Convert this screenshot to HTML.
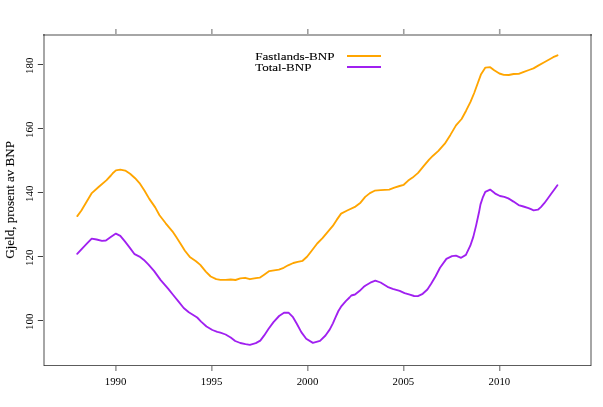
<!DOCTYPE html>
<html><head><meta charset="utf-8"><title>Gjeld</title>
<style>html,body{margin:0;padding:0;background:#fff;}body{width:603px;height:407px;overflow:hidden;font-family:"Liberation Serif",serif;}svg{display:block;}</style>
</head><body>
<svg width="603" height="407" viewBox="0 0 603 407">
<rect width="603" height="407" fill="#fff"/>
<g fill="none" stroke-linecap="butt">
<path d="M44,34 V366" stroke="#000" stroke-opacity="0.35" stroke-width="2"/>
<path d="M591,34 V366" stroke="#000" stroke-opacity="0.35" stroke-width="2"/>
<path d="M43,35 H592" stroke="#000" stroke-opacity="0.35" stroke-width="2"/>
<path d="M44,365.5 H591" stroke="#333" stroke-opacity="0.8" stroke-width="1.1"/>
<path d="M115.90,366 V371" stroke="#000" stroke-opacity="0.45" stroke-width="1.4"/>
<path d="M115.90,29 V34" stroke="#000" stroke-opacity="0.38" stroke-width="1.6"/>
<path d="M211.85,366 V371" stroke="#000" stroke-opacity="0.45" stroke-width="1.4"/>
<path d="M211.85,29 V34" stroke="#000" stroke-opacity="0.38" stroke-width="1.6"/>
<path d="M307.80,366 V371" stroke="#000" stroke-opacity="0.45" stroke-width="1.4"/>
<path d="M307.80,29 V34" stroke="#000" stroke-opacity="0.38" stroke-width="1.6"/>
<path d="M403.75,366 V371" stroke="#000" stroke-opacity="0.45" stroke-width="1.4"/>
<path d="M403.75,29 V34" stroke="#000" stroke-opacity="0.38" stroke-width="1.6"/>
<path d="M499.70,366 V371" stroke="#000" stroke-opacity="0.45" stroke-width="1.4"/>
<path d="M499.70,29 V34" stroke="#000" stroke-opacity="0.38" stroke-width="1.6"/>
<path d="M37.8,320.50 H43" stroke="#000" stroke-opacity="0.75" stroke-width="1"/>
<path d="M37.8,256.50 H43" stroke="#000" stroke-opacity="0.75" stroke-width="1"/>
<path d="M37.8,192.50 H43" stroke="#000" stroke-opacity="0.75" stroke-width="1"/>
<path d="M37.8,128.50 H43" stroke="#000" stroke-opacity="0.75" stroke-width="1"/>
<path d="M37.8,64.50 H43" stroke="#000" stroke-opacity="0.75" stroke-width="1"/>
</g>
<path d="M347,56 H381" stroke="#FFA500" stroke-width="2.2" fill="none"/>
<path d="M347,67 H381" stroke="#A020F0" stroke-width="2.2" fill="none"/>
<polyline points="77.3,216.1 81.4,210.5 86.3,202.2 91.8,193.1 98.6,187.0 106.6,180.1 110.9,175.5 113.3,172.7 115.9,170.4 120.3,169.7 125.2,170.6 130.1,173.8 135.1,178.2 139.5,183.1 144.4,190.5 149.3,198.9 155.2,207.4 159.5,215.3 165.7,223.3 172.4,231.3 176.1,236.8 180.4,243.4 184.9,250.7 189.8,256.9 196.0,261.2 200.3,264.9 205.8,271.6 210.7,276.5 216.2,279.2 220.4,279.9 225.6,279.9 230.7,279.5 235.5,280.0 240.3,278.4 245.1,277.8 249.9,279.2 255.8,278.2 259.7,277.7 264.5,274.4 269.3,271.1 274.1,270.4 278.9,269.6 283.7,267.8 288.1,265.3 293.3,263.0 297.7,261.9 302.6,260.8 307.0,256.8 311.5,251.0 317.2,243.5 322.5,238.2 326.9,232.9 332.8,225.9 336.7,219.9 341.1,213.6 347.2,210.5 355.5,206.6 360.5,202.7 365.2,196.9 369.9,193.1 374.6,190.7 380.6,190.1 389.2,189.6 394.4,187.7 399.6,186.0 403.7,184.8 408.2,180.6 412.6,177.6 418.1,172.9 423.6,166.2 429.1,159.6 433.0,155.7 438.4,150.9 444.8,143.7 450.4,134.9 456.0,125.4 461.6,119.0 466.1,110.7 470.5,101.9 474.2,93.0 478.1,82.2 480.9,74.6 485.4,67.6 490.2,67.2 494.2,70.2 499.4,73.5 503.8,74.8 508.8,75.0 513.6,74.0 518.7,73.9 523.9,71.8 529.0,70.0 533.5,68.4 538.6,65.4 543.8,62.5 548.3,60.0 553.2,57.2 557.5,55.3" fill="none" stroke="#FFA500" stroke-width="1.85" stroke-linejoin="round" stroke-linecap="round"/>
<polyline points="77.2,253.8 82.8,247.8 87.3,243.2 91.7,238.6 96.6,239.5 102.0,240.9 105.9,240.5 110.4,237.3 115.9,233.6 120.3,235.8 124.7,241.2 129.7,247.6 134.6,254.2 139.5,256.6 143.9,259.9 148.3,264.3 154.0,270.9 160.7,280.1 168.1,288.7 173.6,295.5 178.6,301.6 183.7,308.0 188.8,312.3 192.8,314.7 197.2,317.5 201.1,321.6 206.5,326.5 212.4,330.0 217.3,331.9 220.4,332.7 225.6,334.5 230.7,337.5 235.2,341.0 240.3,343.0 245.5,344.1 249.9,344.8 255.8,343.1 260.3,340.6 264.2,335.4 268.6,328.8 273.5,322.1 279.1,316.0 284.0,312.7 288.5,312.7 293.0,317.2 296.8,323.8 301.3,332.1 306.2,338.7 312.9,342.9 320.0,340.9 325.5,335.5 329.8,329.4 332.9,323.3 335.4,317.7 338.4,311.0 341.5,306.1 345.8,301.1 349.5,297.5 351.3,295.5 355.0,294.5 359.4,291.1 363.5,287.1 365.6,285.5 370.3,282.7 375.3,280.6 380.6,282.5 387.5,286.8 392.7,288.8 399.7,290.8 404.6,293.1 409.8,294.7 414.1,296.0 417.9,296.2 422.7,293.8 427.4,289.5 431.3,283.5 435.6,276.2 440.0,267.7 446.4,258.9 452.0,256.1 456.0,255.7 461.1,257.8 465.9,254.9 470.3,245.7 473.3,236.9 476.2,225.1 479.0,212.3 480.5,204.4 482.7,197.7 485.3,191.8 490.1,189.6 495.2,193.6 500.0,196.0 504.3,196.8 508.3,198.4 513.5,201.6 518.6,205.1 523.4,206.5 528.5,208.1 531.0,209.2 533.6,210.3 537.9,209.7 540.9,207.1 544.3,203.2 547.8,198.5 551.2,193.8 554.7,189.0 557.4,185.2" fill="none" stroke="#A020F0" stroke-width="1.85" stroke-linejoin="round" stroke-linecap="round"/>
<g font-family="Liberation Serif, serif" fill="#000" style="filter:grayscale(1)">
<text x="115.6" y="384.5" font-size="10.5" text-anchor="middle" textLength="21.6" lengthAdjust="spacingAndGlyphs">1990</text>
<text x="211.6" y="384.5" font-size="10.5" text-anchor="middle" textLength="21.6" lengthAdjust="spacingAndGlyphs">1995</text>
<text x="307.5" y="384.5" font-size="10.5" text-anchor="middle" textLength="21.6" lengthAdjust="spacingAndGlyphs">2000</text>
<text x="403.4" y="384.5" font-size="10.5" text-anchor="middle" textLength="21.6" lengthAdjust="spacingAndGlyphs">2005</text>
<text x="499.4" y="384.5" font-size="10.5" text-anchor="middle" textLength="21.6" lengthAdjust="spacingAndGlyphs">2010</text>
<text transform="translate(33.2,321.7) rotate(-90)" font-size="10.5" text-anchor="middle" textLength="16.4" lengthAdjust="spacingAndGlyphs">100</text>
<text transform="translate(33.2,257.7) rotate(-90)" font-size="10.5" text-anchor="middle" textLength="16.4" lengthAdjust="spacingAndGlyphs">120</text>
<text transform="translate(33.2,193.7) rotate(-90)" font-size="10.5" text-anchor="middle" textLength="16.4" lengthAdjust="spacingAndGlyphs">140</text>
<text transform="translate(33.2,129.7) rotate(-90)" font-size="10.5" text-anchor="middle" textLength="16.4" lengthAdjust="spacingAndGlyphs">160</text>
<text transform="translate(33.2,65.7) rotate(-90)" font-size="10.5" text-anchor="middle" textLength="16.4" lengthAdjust="spacingAndGlyphs">180</text>
<g stroke="#000" stroke-width="0.1">
<text transform="translate(13.8,199.9) rotate(-90)" font-size="12" text-anchor="middle" textLength="117.5" lengthAdjust="spacingAndGlyphs">Gjeld, prosent av BNP</text>
<text x="255.2" y="60.4" font-size="11.3" textLength="79.4" lengthAdjust="spacingAndGlyphs">Fastlands-BNP</text>
<text x="255.2" y="71.1" font-size="11.3" textLength="56.2" lengthAdjust="spacingAndGlyphs">Total-BNP</text>
</g>
</g>
</svg>
</body></html>
